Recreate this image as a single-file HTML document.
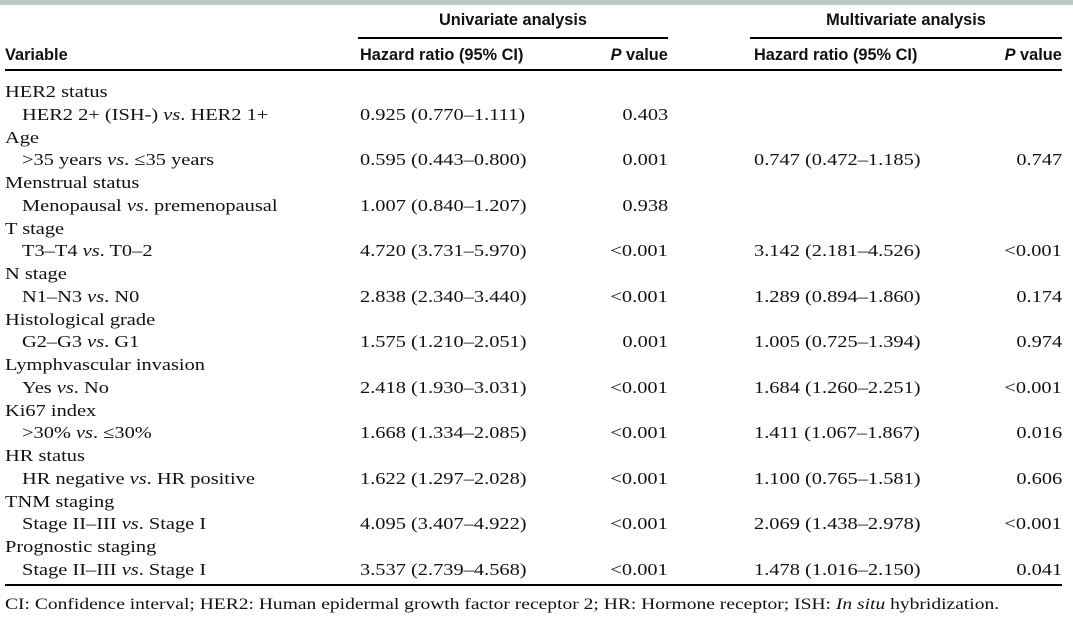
<!DOCTYPE html>
<html><head><meta charset="utf-8"><style>
body{margin:0;background:#fff;width:1073px;height:619px;position:relative;overflow:hidden;font-family:"Liberation Serif",serif;color:#111}
.t{position:absolute;white-space:nowrap;font-size:17px;line-height:18px;transform:scaleX(1.2);transform-origin:left}
.t.r{transform-origin:right}
.h{position:absolute;white-space:nowrap;font-family:"Liberation Sans",sans-serif;font-weight:bold;font-size:16.5px;line-height:18px;transform:scaleX(0.99)}
.hl{transform-origin:left}.hr{transform-origin:right}.hc{transform-origin:center}
.r{text-align:right}
.rule{position:absolute;background:#000}
</style></head><body>
<div class="rule" style="left:0;top:0;width:1073px;height:5px;background:#b9cbc6"></div>
<div class="h hc" style="left:358px;width:310px;text-align:center;top:11px">Univariate analysis</div>
<div class="h hc" style="left:750px;width:312px;text-align:center;top:11px">Multivariate analysis</div>
<div class="rule" style="left:358px;top:37px;width:310px;height:2px"></div>
<div class="rule" style="left:750px;top:37px;width:312px;height:2px"></div>
<div class="h hl" style="left:5px;top:46px">Variable</div>
<div class="h hl" style="left:360px;top:46px">Hazard ratio (95% CI)</div>
<div class="h hr" style="right:405px;top:46px"><i>P</i> value</div>
<div class="h hl" style="left:754px;top:46px">Hazard ratio (95% CI)</div>
<div class="h hr" style="right:11px;top:46px"><i>P</i> value</div>
<div class="rule" style="left:5px;top:69px;width:1057px;height:2px"></div>
<div id="rows"></div>
<div class="rule" style="left:5px;top:584px;width:1057px;height:2px"></div>
<div class="t" style="left:5px;top:596px;font-size:15.5px;transform:scaleX(1.26)">CI: Confidence interval; HER2: Human epidermal growth factor receptor 2; HR: Hormone receptor; ISH: <i>In situ</i> hybridization.</div>
<script>
var d=[
["HER2 status","HER2 2+ (ISH-) <i>vs</i>. HER2 1+","0.925 (0.770–1.111)","0.403","",""],
["Age","&gt;35 years <i>vs</i>. ≤35 years","0.595 (0.443–0.800)","0.001","0.747 (0.472–1.185)","0.747"],
["Menstrual status","Menopausal <i>vs</i>. premenopausal","1.007 (0.840–1.207)","0.938","",""],
["T stage","T3–T4 <i>vs</i>. T0–2","4.720 (3.731–5.970)","&lt;0.001","3.142 (2.181–4.526)","&lt;0.001"],
["N stage","N1–N3 <i>vs</i>. N0","2.838 (2.340–3.440)","&lt;0.001","1.289 (0.894–1.860)","0.174"],
["Histological grade","G2–G3 <i>vs</i>. G1","1.575 (1.210–2.051)","0.001","1.005 (0.725–1.394)","0.974"],
["Lymphvascular invasion","Yes <i>vs</i>. No","2.418 (1.930–3.031)","&lt;0.001","1.684 (1.260–2.251)","&lt;0.001"],
["Ki67 index","&gt;30% <i>vs</i>. ≤30%","1.668 (1.334–2.085)","&lt;0.001","1.411 (1.067–1.867)","0.016"],
["HR status","HR negative <i>vs</i>. HR positive","1.622 (1.297–2.028)","&lt;0.001","1.100 (0.765–1.581)","0.606"],
["TNM staging","Stage II–III <i>vs</i>. Stage I","4.095 (3.407–4.922)","&lt;0.001","2.069 (1.438–2.978)","&lt;0.001"],
["Prognostic staging","Stage II–III <i>vs</i>. Stage I","3.537 (2.739–4.568)","&lt;0.001","1.478 (1.016–2.150)","0.041"]];
var h="",s=22.75;
d.forEach(function(r,i){var y1=83+2*i*s,y2=y1+s;
h+='<div class="t" style="left:5px;top:'+y1+'px">'+r[0]+'</div>';
h+='<div class="t" style="left:22px;top:'+y2+'px">'+r[1]+'</div>';
h+='<div class="t" style="left:360px;top:'+y2+'px">'+r[2]+'</div>';
h+='<div class="t r" style="right:405px;top:'+y2+'px">'+r[3]+'</div>';
h+='<div class="t" style="left:754px;top:'+y2+'px">'+r[4]+'</div>';
h+='<div class="t r" style="right:11px;top:'+y2+'px">'+r[5]+'</div>';});
document.getElementById("rows").innerHTML=h;
</script>
</body></html>
